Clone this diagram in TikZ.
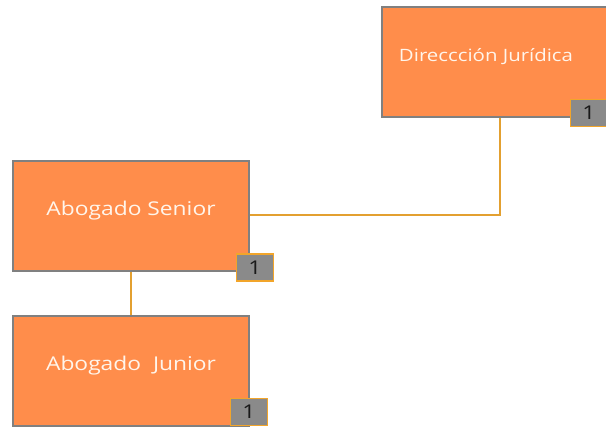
\documentclass[tikz,border=0pt]{standalone}
\usepackage{fontspec}
\setmainfont[FakeStretch=1.2]{Open Sans}
\definecolor{boxfill}{HTML}{FF8D4B}
\definecolor{boxline}{HTML}{808080}
\definecolor{linkline}{HTML}{E3A030}
\definecolor{badgefill}{HTML}{8A8A8A}
\definecolor{badgeline}{HTML}{F2A52A}
\begin{document}
\begin{tikzpicture}[x=1pt,y=-1pt,
    role/.style={draw=boxline, line width=2.5pt, fill=boxfill, minimum width=236pt, minimum height=110pt,
        inner sep=0pt, text depth=15pt, text=white!92!orange, font=\fontsize{19}{22}\selectfont},
    badge/.style={draw=badgeline, line width=1.5pt, fill=badgefill, minimum width=37pt, minimum height=27pt,
        inner sep=0pt, text=black!90, font=\fontsize{19}{20}\selectfont},
    link/.style={draw=linkline, line width=1.5pt}]
    \useasboundingbox (0,0) rectangle (606,428);
    \begin{scope}
    \clip (0,0) rectangle (606,428);

    \node[role, font=\fontsize{17}{20}\selectfont] (dir) at (500, 62) {Direccción Jurídica\hspace*{28pt}};
    \node[role] (senior) at (131, 216) {Abogado Senior};
    \node[role] (junior) at (131, 371) {Abogado\ \ Junior};

    \coordinate (turn) at (500, 215);
    \draw[link] (dir.south) -- (turn) -- (senior.east |- turn);
    \draw[link] (senior.south) -- (junior.north);

    \node[badge] (dirnum) at (589, 113) {1};
    \node[badge] (seniornum) at (255, 267.5) {1};
    \node[badge] (juniornum) at (249, 412) {1};
    \end{scope}
\end{tikzpicture}
\end{document}
